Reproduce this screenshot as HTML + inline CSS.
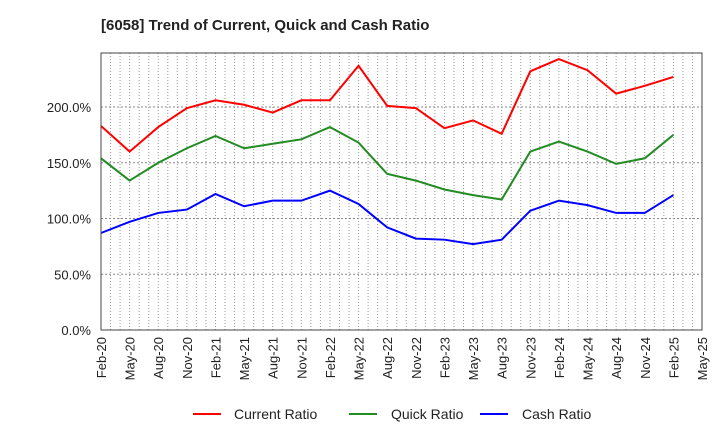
<!DOCTYPE html>
<html><head><meta charset="utf-8"><style>
body{margin:0;background:#fff;}
svg{display:block;font-family:"Liberation Sans",Arial,sans-serif;}
</style></head><body>
<svg id="chart" width="720" height="440">
<text x="101" y="30" font-size="15" font-weight="bold" fill="#222">[6058]  Trend of Current, Quick and Cash Ratio</text>
<g id="grid"></g><g id="yticks"></g><g id="xticks"></g><g id="series"></g>
<rect x="101" y="53" width="601" height="277" fill="none" stroke="#444" stroke-width="1"/>
<g>
<line x1="193" y1="414" x2="221" y2="414" stroke="#f00" stroke-width="2"/>
<text x="234" y="419" font-size="14" fill="#222">Current Ratio</text>
<line x1="349" y1="414" x2="377" y2="414" stroke="#228b22" stroke-width="2"/>
<text x="391" y="419" font-size="14" fill="#222">Quick Ratio</text>
<line x1="480" y1="414" x2="508" y2="414" stroke="#00f" stroke-width="2"/>
<text x="522" y="419" font-size="14" fill="#222">Cash Ratio</text>
</g>
</svg>
<script>
const categories=["Feb-20","May-20","Aug-20","Nov-20","Feb-21","May-21","Aug-21","Nov-21","Feb-22","May-22","Aug-22","Nov-22","Feb-23","May-23","Aug-23","Nov-23","Feb-24","May-24","Aug-24","Nov-24","Feb-25","May-25"];
const currentRatio=[183,160,182,199,206,202,195,206,206,237,201,199,181,188,176,232,243,233,212,219,227];
const quickRatio=[154,134,150,163,174,163,167,171,182,168,140,134,126,121,117,160,169,160,149,154,175];
const cashRatio=[87,97,105,108,122,111,116,116,125,113,92,82,81,77,81,107,116,112,105,105,121];
const yTicks=[0,50,100,150,200];
const yTickLabels=["0.0%","50.0%","100.0%","150.0%","200.0%"];
const NS="http://www.w3.org/2000/svg";
const L=101,R=702,T=53,B=330,PER100=111.5;
const xq=i=>L+i*(R-L)/(categories.length-1);
const y=v=>B-v/100*PER100;
function mk(tag,attrs,parent){const e=document.createElementNS(NS,tag);for(const k in attrs)e.setAttribute(k,attrs[k]);parent.appendChild(e);return e;}
const grid=document.getElementById('grid');
for(let m=1;m<(categories.length-1)*3;m++){const x=L+m*(R-L)/((categories.length-1)*3);
const l=mk('line',{x1:x,y1:T,x2:x,y2:B,stroke:'#999','stroke-width':1,'stroke-dasharray':'1,2'},grid);

}
const yt=document.getElementById('yticks');
yTicks.forEach((v,i)=>{
if(v>0){const g=mk('line',{x1:L,y1:y(v),x2:R,y2:y(v),stroke:'#888','stroke-width':1,'stroke-dasharray':'2,2'},grid);

}
const t=mk('text',{x:91,y:y(v)+5,'font-size':13,'text-anchor':'end',fill:'#222'},yt);t.textContent=yTickLabels[i];

});
const xt=document.getElementById('xticks');
categories.forEach((c,i)=>{const x=xq(i)+5;
const t=mk('text',{x:x,y:337,'font-size':13,'text-anchor':'end',fill:'#222',transform:`rotate(-90 ${x} 337)`},xt);t.textContent=c;

});
const sg=document.getElementById('series');
[[currentRatio,'#f00','current-ratio-line'],[quickRatio,'#228b22','quick-ratio-line'],[cashRatio,'#00f','cash-ratio-line']].forEach(([d,col,name])=>{
const p=mk('polyline',{points:d.map((v,i)=>xq(i)+','+y(v)).join(' '),fill:'none',stroke:col,'stroke-width':2},sg);

});
</script>
</body></html>
